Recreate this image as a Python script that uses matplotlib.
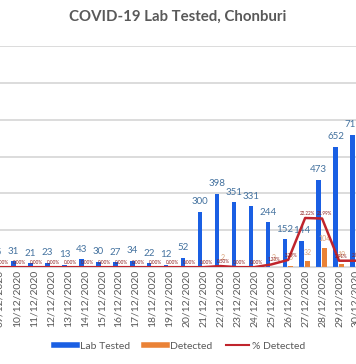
import matplotlib
matplotlib.use('Agg')
from matplotlib import pyplot as plt
from matplotlib.lines import Line2D
import numpy as np

# Dates (the chart is cropped: 09/12 and 30/12 sit just outside the picture)
dates = ['09/12/2020', '10/12/2020', '11/12/2020', '12/12/2020', '13/12/2020',
         '14/12/2020', '15/12/2020', '16/12/2020', '17/12/2020', '18/12/2020',
         '19/12/2020', '20/12/2020', '21/12/2020', '22/12/2020', '23/12/2020',
         '24/12/2020', '25/12/2020', '26/12/2020', '27/12/2020', '28/12/2020',
         '29/12/2020', '30/12/2020']
lab_tested = [25, 31, 21, 23, 13, 43, 30, 27, 34, 22, 12, 52, 300, 398, 351,
              331, 244, 152, 144, 473, 652, 717]
detected = [0, 0, 0, 0, 0, 0, 0, 0, 0, 0, 0, 0, 0, 2, 0, 0, 3, 5, 32, 104, 19,
            21]

pct = np.array(detected) / np.array(lab_tested)

blauw = '#1a5fe3'
oranje = '#ea8236'
rood = '#c0242c'
grijs = '#595959'

plt.rcParams['font.family'] = ['Lato', 'DejaVu Sans']

fig = plt.figure(figsize=(3.56, 3.64), dpi=100)
ax = fig.add_axes([0.0, 0.266, 1.0, 0.608])

x = np.arange(len(dates))
breedte = 0.27
ax.bar(x - 0.2, lab_tested, width=breedte, color=blauw, zorder=2)
ax.bar(x + 0.15, detected, width=breedte, color=oranje, zorder=2)

# Labels boven de balken
for i, v in enumerate(lab_tested):
    ax.text(x[i] - 0.2, v + 30, str(v), ha='center', va='bottom',
            fontsize=7, color='#44729f', zorder=4)
for i, v in enumerate(detected):
    if v > 0:
        ax.text(x[i] + 0.15, v + 30, str(v), ha='center', va='bottom',
                fontsize=5, color='#d9a37a', zorder=4)

ax.set_ylim(0, 1200)
ax.set_yticks(np.arange(0, 1201, 200))
ax.yaxis.grid(True, color='#d9d9d9', lw=1.3, zorder=0)
ax.set_axisbelow(True)
px = 17.7
ax.set_xlim(1 - 9.5 / px, 1 - 9.5 / px + 356 / px)
ax.set_xticks(x)
ax.set_xticklabels(dates, rotation=90, fontsize=7.5, color=grijs)
ax.tick_params(axis='both', length=0, pad=2)
ax.tick_params(axis='y', labelleft=False)
for s in ['top', 'left', 'right']:
    ax.spines[s].set_visible(False)
ax.spines['bottom'].set_color('#d9d9d9')

# % Detected op de tweede as
ax2 = ax.twinx()
ax2.plot(x, pct, color=rood, lw=1.8, zorder=3)
ax2.set_ylim(0, 1.0)
ax2.set_yticks([])
for s in ['top', 'left', 'right', 'bottom']:
    ax2.spines[s].set_visible(False)
for i, p in enumerate(pct):
    ax2.text(x[i] + 0.15, p + 0.01, f'{p * 100:.2f}%', ha='center',
             va='bottom', fontsize=3.3, color='#8b1a1a')

fig.suptitle('COVID-19 Lab Tested, Chonburi', y=0.953, va='center',
             fontsize=10.8, fontweight='bold', color=grijs)

handles = [Line2D([], [], color=blauw, lw=4),
           Line2D([], [], color=oranje, lw=4),
           Line2D([], [], color=rood, lw=1.5)]
fig.legend(handles, ['Lab Tested', 'Detected', '% Detected'], ncol=3,
           loc='center', bbox_to_anchor=(0.505, 0.049), frameon=False,
           fontsize=7.5, labelcolor=grijs, handlelength=2.2,
           handletextpad=0.3, columnspacing=1.3)

fig.savefig('out.png', dpi=100)
